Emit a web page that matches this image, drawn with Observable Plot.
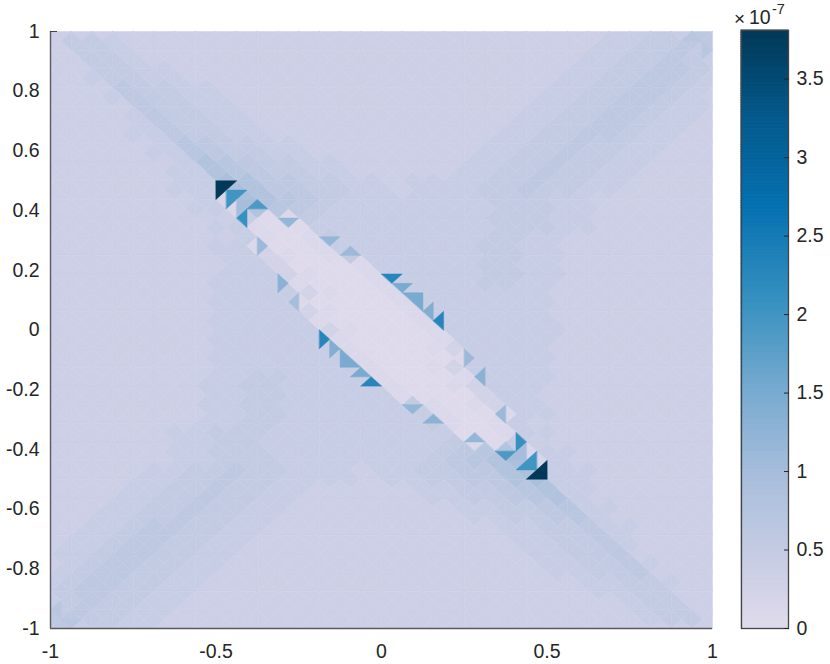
<!DOCTYPE html>
<html><head><meta charset="utf-8">
<script src="https://cdn.jsdelivr.net/npm/d3@7"></script>
<script src="https://cdn.jsdelivr.net/npm/@observablehq/plot@0.6"></script>
<style>
html,body{margin:0;padding:0;background:#fff}
#c{position:relative;width:830px;height:664px;font-family:"Liberation Sans",Arial,sans-serif;color:#262626}
#c svg{position:absolute;left:0;top:0}
.sc{position:absolute;line-height:1;white-space:nowrap}
</style></head><body><div id="c"></div>
<script>
// mesh: 32 x 32 cells; each cell has 4 triangles. Each character is a shade level.
const b = n => "3".repeat(n); // a run of the background level
const levelValues = [0.02,0.1,0.25,0.36,0.45,0.52,0.6,0.7,0.8,0.9];
const edgeH = [
b(27)+"44546",
"3"+"5543"+b(21)+"445565",
"33"+"55443"+b(18)+"4455665",
"333"+"655443"+b(15)+"44556654",
"3333"+"655443"+b(13)+"445566544",
"33334"+"655443"+b(11)+"4455665443",
"333334"+"7655443"+b(8)+"44556554433",
"3333334"+"87655443"+b(5)+"445565544333",
"33333344"+"98665544"+"344"+"4455655443333",
"333333344"+"98765444"+"444455544333333",
"3333333334"+"01"+"54444"+"444455544"+b(6),
"3333333334"+"101"+"54"+"444"+"4445544"+b(7),
"3333333344"+"2101"+"54"+"444"+"445544"+b(7),
"33333333444"+"21001"+"44"+"44"+"45544"+b(7),
"333333334444"+"21001"+"44"+"444"+"44"+b(8),
"333333334444"+"210001"+"444444"+b(8),
"3333333344444"+"210001"+"444444"+b(7),
"33333333444444"+"100012"+"4444"+b(8),
b(8)+"4444444"+"10012"+"4444"+b(8),
b(7)+"44554"+"4444"+"10012"+"444"+b(8),
b(7)+"445544"+"444"+"45"+"1012"+"44"+b(8),
b(7)+"4455444"+"444"+"45"+"101"+"4"+b(9),
b(6)+"445544444"+"44445"+"10"+"4"+b(9),
"333333445554444"+"44456789"+"44"+b(7),
"3333445565544"+"443"+"44556689"+"44"+b(6),
"333445565544"+b(5)+"34455678"+"4"+b(6),
"33445565544"+b(8)+"3445567"+"4"+b(5),
"3445665544"+b(11)+"344556"+"4"+b(4),
"445665544"+b(13)+"344556"+b(4),
"45665544"+b(15)+"344556"+b(3),
"5665544"+b(18)+"34455"+b(2),
"565544"+b(21)+"3455"+"3",
"64544"+b(27)
];
const edgeV = [
"3"+"5543"+b(22)+"445566",
"33"+"5543"+b(20)+"4455654",
"334"+"55443"+b(17)+"44556654",
"3334"+"655443"+b(14)+"445566543",
"33334"+"655443"+b(12)+"4455665443",
"333344"+"655443"+b(10)+"44556654433",
"3333344"+"7655443"+b(7)+"445565544333",
"33333344"+"87655443"+b(4)+"4455655443333",
"333333444"+"98665544"+"34"+"44556554433333",
"3333333444"+"8765444"+"4"+"444455544333333",
"3333333344"+"1004"+"44444"+"44455544"+b(6),
"3333333344"+"10014"+"444"+"4445544"+b(8),
"33333333344"+"200014"+"44"+"445544"+b(8),
"333333334444"+"100014"+"44"+"45544"+b(8),
"333333334444"+"100001"+"4444444"+b(8),
"3333333344444"+"100001"+"444444"+b(8),
b(8)+"444444"+"100001"+"44444"+b(8),
b(8)+"4444444"+"100001"+"4444"+b(8),
b(8)+"44554"+"44"+"410001"+"4444"+b(8),
b(8)+"445544"+"44"+"410002"+"44"+b(9),
b(8)+"4455444"+"444"+"41001"+"44"+b(8),
b(6)+"44555444"+"44444"+"4001"+"44"+b(8),
"333333445554444"+"4"+"4445678"+"444"+b(7),
"33333445565544"+"43"+"44556689"+"444"+b(6),
"3333445565544"+b(4)+"34455678"+"44"+b(6),
"333445565544"+b(7)+"3445567"+"44"+b(5),
"33445665544"+b(10)+"344556"+"44"+b(4),
"3445665544"+b(12)+"344556"+"4"+b(4),
"345665544"+b(14)+"344556"+"4"+b(3),
"45665544"+b(17)+"34455"+"4"+b(2),
"4565544"+b(20)+"3455"+b(2),
"665544"+b(22)+"3455"+"3"
];
// triangles that stand out of the mesh: corners (column, row, in mesh cells) and value
const spikes = [
[8,9,8.5,8.5,8.5,9.5,0.15],[8.5,9.5,9,9,9,10,0.1],[12,14,12.5,14.5,12,15,0.05],[20,18,19.5,17.5,20,17,0.05],
[24,23,23.5,23.5,23.5,22.5,0.15],[23.5,22.5,23,23,23,22,0.1],
[8,8,9,8,8,9,3.81],[8.5,8.5,9.5,8.5,8.5,9.5,2.0],[9,9,10,9,9,10,1.0],[9.5,9.5,10,9,10.5,9.5,1.9],[9,10,9.5,9.5,9.5,10.5,2.1],
[11,10,12,10,11.5,10.5,1.2],[10,11,10.5,11.5,10,12,1.1],[13,11,14,11,13.5,11.5,1.2],[14,12,15,12,14.5,11.5,1.1],
[11,13,11.5,13.5,11,14,1.3],[12,14,11.5,14.5,12,15,1.0],
[16,13,17,13,16.5,13.5,2.3],[16.5,13.5,17.5,13.5,17,14,1.5],[17,14,18,14,18,15,1.5],[18,15,18.5,14.5,18.5,15.5,1.4],[18.5,15.5,19,15,19,16,2.3],
[13,16,13.5,16.5,13,17,2.3],[13.5,16.5,14,17,13.5,17.5,1.4],[14,17,14,18,15,18,1.5],[14.5,18.5,15,18,15.5,18.5,1.5],[15,19,15.5,18.5,16,19,2.3],
[20,17,20.5,17.5,20,18,1.1],[21,19,20.5,18.5,21,18,1.3],[18,20,17,20,17.5,20.5,1.2],[19,21,18,21,18.5,20.5,1.3],[22,21,21.5,20.5,22,20,1.1],[21,22,20,22,20.5,21.5,1.2],
[23,23,22,23,23,22,1.0],[23,22,22.5,22.5,22.5,21.5,2.1],[22.5,22.5,22,23,21.5,22.5,1.9],[23.5,23.5,22.5,23.5,23.5,22.5,2.0],[24,24,23,24,24,23,3.81],
[31,0,30.5,0.5,31.5,0.5,0.68],[31.5,0.5,32,1,31.5,1.5,0.68],[1,32,1.5,31.5,0.5,31.5,0.68],[0.5,31.5,0,31,0.5,30.5,0.68]
];
const xTicks = [-1,-0.5,0,0.5,1];
const yTicks = [-1,-0.8,-0.6,-0.4,-0.2,0,0.2,0.4,0.6,0.8,1];
const barTicks = [0,0.5,1,1.5,2,2.5,3,3.5];
const colorStops = [0,0.3,1.0,1.55,2.1,2.7,3.25,3.81];
const colorRange = ["#dfdbec","#d0d1e6","#a6bddb","#74a9cf","#3690c0","#0570b0","#045a8d","#023858"];

const colorScale = {type:"linear",domain:colorStops,range:colorRange,clamp:true};
const pts = [];
let id = 0;
function tri(a,b,c,d,e,f,v){
  id++;
  for(const [u,w] of [[a,b],[c,d],[e,f]]) pts.push({x:-1+u/16,y:1-w/16,id,v});
}
const lv=(r,k)=>{const ch=r[k];return levelValues[ch===undefined?3:+ch];};
for(let j=0;j<32;j++)for(let i=0;i<32;i++){
  const cx=i+.5,cy=j+.5;
  tri(i,j,i+1,j,cx,cy,lv(edgeH[j],i));
  tri(i,j+1,i+1,j+1,cx,cy,lv(edgeH[j+1],i));
  tri(i,j,i,j+1,cx,cy,lv(edgeV[j],i));
  tri(i+1,j,i+1,j+1,cx,cy,lv(edgeV[j],i+1));
}
for(const s of spikes) tri(...s);

const fontSize = 19.5;
const main = Plot.plot({
  width:830,height:664,marginLeft:50,marginRight:118,marginTop:31,marginBottom:36,
  style:{background:"transparent",fontFamily:"Liberation Sans",fontSize:fontSize+"px",color:"#262626"},
  x:{domain:[-1,1]},y:{domain:[-1,1]},color:colorScale,
  marks:[
    Plot.line(pts,{x:"x",y:"y",z:"id",fill:"v",stroke:"v",strokeWidth:0.5,curve:"linear-closed"}),
    Plot.ruleX([-1],{stroke:"#5a5a5a",strokeWidth:1.4}),
    Plot.ruleY([-1],{stroke:"#5a5a5a",strokeWidth:1.4}),
    Plot.axisX({ticks:xTicks,tickSize:0,tickPadding:16,label:null,tickFormat:d=>String(d)}),
    Plot.axisY({ticks:yTicks,tickSize:0,tickPadding:11,label:null,tickFormat:d=>String(d)}),
    Plot.axisY({ticks:[1],tickSize:-7,tickFormat:()=>"",label:null,stroke:"#444"})
  ]
});
const bins = d3.range(0,256).map(k=>k/256*3.81);
const bar = Plot.plot({
  width:830,height:664,marginLeft:741,marginRight:42,marginTop:30,marginBottom:36,
  style:{background:"transparent",fontFamily:"Liberation Sans",fontSize:fontSize+"px",color:"#262626"},
  x:{domain:[0,1],axis:null},y:{domain:[0,3.81]},color:colorScale,
  marks:[
    Plot.rect(bins,{x1:0,x2:1,y1:d=>d,y2:d=>d+3.81/256,fill:d=>d+3.81/512,stroke:d=>d+3.81/512,strokeWidth:1}),
    Plot.frame({stroke:"#444",strokeWidth:1.3}),
    Plot.axisY({anchor:"right",ticks:barTicks,tickSize:-5,tickPadding:13,label:null,tickFormat:d=>String(d)})
  ]
});
const c = document.getElementById("c");
c.append(main,bar);
function lab(t,x,y,s){const e=document.createElement("span");e.className="sc";e.textContent=t;e.style.left=x+"px";e.style.top=y+"px";e.style.fontSize=s+"px";c.append(e);}
lab("×",734,9,19);lab("10",749,8,19.5);lab("-7",772,2,14.5);
</script></body></html>
